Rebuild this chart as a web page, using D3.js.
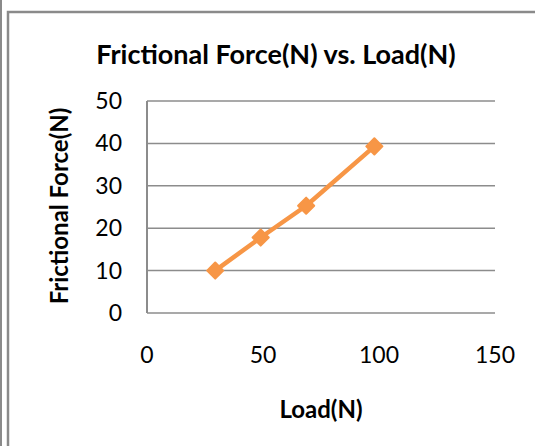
<!DOCTYPE html>
<html>
<head>
<meta charset="utf-8">
<script src="https://cdn.jsdelivr.net/npm/d3@7"></script>
<style>
  body { margin: 0; background: #fff; }
  text { font-family: Lato, "Open Sans", sans-serif; fill: #000; }
</style>
</head>
<body>
<div id="chart"></div>
<script>
// load in N (masses x 9.8) and measured friction
const load = [29.4, 49, 68.6, 98];
const friction = [10, 17.8, 25.3, 39.3];
const xTicks = [0, 50, 100, 150];
const yTicks = [0, 10, 20, 30, 40, 50];

const width = 535, height = 446;
const orange = "#F79646";

const svg = d3.select("#chart")
    .append("svg")
    .attr("width", width)
    .attr("height", height);

// outer frame (double line on the left, top edge)
svg.append("line")
    .attr("x1", 1).attr("x2", 1)
    .attr("y1", 0).attr("y2", height)
    .attr("stroke", "#8a8a8a").attr("stroke-width", 2);
svg.append("path")
    .attr("d", `M8,${height} V12 H${width}`)
    .attr("fill", "none")
    .attr("stroke", "#8a8a8a").attr("stroke-width", 2.5);

const x = d3.scaleLinear().domain([0, 150]).range([147, 495]);
const y = d3.scaleLinear().domain([0, 50]).range([313, 101]);

// gridlines
svg.append("g")
    .selectAll("line")
    .data(yTicks)
    .join("line")
    .attr("x1", x(0)).attr("x2", x(150))
    .attr("y1", d => y(d)).attr("y2", d => y(d))
    .attr("stroke", "#8c8c8c").attr("stroke-width", 1.5);

// y axis line
svg.append("line")
    .attr("x1", x(0)).attr("x2", x(0))
    .attr("y1", y(50)).attr("y2", y(0))
    .attr("stroke", "#8c8c8c").attr("stroke-width", 2);

// tick labels
svg.append("g")
    .selectAll("text")
    .data(yTicks)
    .join("text")
    .attr("x", 122)
    .attr("y", d => y(d))
    .attr("dy", "0.35em")
    .attr("text-anchor", "end")
    .style("font-size", "23px")
    .text(d => d);

svg.append("g")
    .selectAll("text")
    .data(xTicks)
    .join("text")
    .attr("x", d => x(d))
    .attr("y", 355)
    .attr("dy", "0.35em")
    .attr("text-anchor", "middle")
    .style("font-size", "23px")
    .text(d => d);

// titles
svg.append("text")
    .attr("x", 276).attr("y", 64)
    .attr("text-anchor", "middle")
    .style("font-size", "27px").style("font-weight", "bold")
    .text("Frictional Force(N) vs. Load(N)");

svg.append("text")
    .attr("x", 321).attr("y", 418)
    .attr("text-anchor", "middle")
    .style("font-size", "24px").style("font-weight", "bold")
    .text("Load(N)");

svg.append("text")
    .attr("transform", "translate(68,206) rotate(-90)")
    .attr("text-anchor", "middle")
    .style("font-size", "24px").style("font-weight", "bold")
    .text("Frictional Force(N)");

// series
const pts = load.map((d, i) => [d, friction[i]]);

svg.append("path")
    .datum(pts)
    .attr("fill", "none")
    .attr("stroke", orange)
    .attr("stroke-width", 4.5)
    .attr("stroke-linejoin", "round")
    .attr("d", d3.line().x(d => x(d[0])).y(d => y(d[1])));

svg.append("g")
    .selectAll("path")
    .data(pts)
    .join("path")
    .attr("transform", d => `translate(${x(d[0])},${y(d[1])}) rotate(45)`)
    .attr("d", d3.symbol(d3.symbolSquare, 130))
    .attr("fill", orange)
    .attr("stroke", orange)
    .attr("stroke-width", 2)
    .attr("stroke-linejoin", "round");
</script>
</body>
</html>
